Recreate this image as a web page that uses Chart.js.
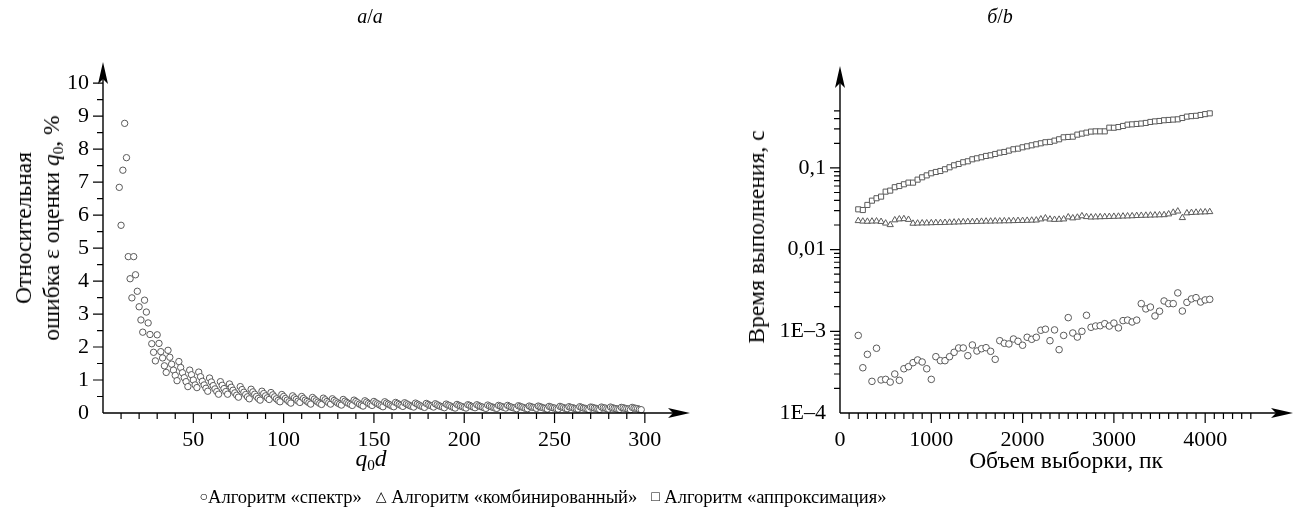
<!DOCTYPE html>
<html lang="ru">
<head>
<meta charset="utf-8">
<script src="https://cdn.jsdelivr.net/npm/chart.js@4.4.0/dist/chart.umd.min.js"></script>
<style>
body { margin: 0; width: 1299px; height: 515px; background: #fff; position: relative; overflow: hidden;
       font-family: "Liberation Serif", "DejaVu Serif", serif; color: #000; }
canvas { position: absolute; top: 0; }
#errChart { left: 0; }
#timeChart { left: 720px; }
.txt { position: absolute; white-space: nowrap; font-size: 23.5px; line-height: 1; transform: translate(-50%, -50%); }
.rot { transform: translate(-50%, -50%) rotate(-90deg); text-align: center; line-height: 28px; }
sub { font-size: 65%; vertical-align: -0.25em; line-height: 0; }
.legend { font-size: 18.5px; }
.legend span.sym { font-size: 14px; vertical-align: 2px; }
.legend span.gap { display: inline-block; width: 14px; }
</style>
</head>
<body>
<canvas id="errChart" width="720" height="515" style="width:720px;height:515px"></canvas>
<canvas id="timeChart" width="579" height="515" style="width:579px;height:515px"></canvas>

<div class="txt" style="left:370px;top:16px;font-size:20px"><i>a</i>/<i>a</i></div>
<div class="txt" style="left:1000px;top:16px;font-size:20px"><i>б</i>/<i>b</i></div>
<div class="txt rot" style="left:37px;top:228px">Относительная<br>ошибка ε оценки <i>q</i><sub>0</sub>, %</div>
<div class="txt" style="left:371px;top:459px"><i>q</i><sub>0</sub><i>d</i></div>
<div class="txt rot" style="left:756px;top:237px">Время выполнения, с</div>
<div class="txt" style="left:1066px;top:461px">Объем выборки, пк</div>
<div class="txt legend" style="left:543px;top:497px">
  <span class="sym">○</span>Алгоритм «спектр»<span class="gap"></span><span class="sym">△</span> Алгоритм «комбинированный»<span class="gap"></span><span class="sym">□</span> Алгоритм «аппроксимация»
</div>

<script>
// ---- a/a : relative error vs q0d ----
const errX = [
  9, 10, 11, 12, 13, 14, 15, 16, 17, 18,
  19, 20, 21, 22, 23, 24, 25, 26, 27, 28,
  29, 30, 31, 32, 33, 34, 35, 36, 37, 38,
  39, 40, 41, 42, 43, 44, 45, 46, 47, 48,
  49, 50, 51, 52, 53, 54, 55, 56, 57, 58,
  59, 60, 61, 62, 63, 64, 65, 66, 67, 68,
  69, 70, 71, 72, 73, 74, 75, 76, 77, 78,
  79, 80, 81, 82, 83, 84, 85, 86, 87, 88,
  89, 90, 91, 92, 93, 94, 95, 96, 97, 98,
  99, 100, 101, 102, 103, 104, 105, 106, 107, 108,
  109, 110, 111, 112, 113, 114, 115, 116, 117, 118,
  119, 120, 121, 122, 123, 124, 125, 126, 127, 128,
  129, 130, 131, 132, 133, 134, 135, 136, 137, 138,
  139, 140, 141, 142, 143, 144, 145, 146, 147, 148,
  149, 150, 151, 152, 153, 154, 155, 156, 157, 158,
  159, 160, 161, 162, 163, 164, 165, 166, 167, 168,
  169, 170, 171, 172, 173, 174, 175, 176, 177, 178,
  179, 180, 181, 182, 183, 184, 185, 186, 187, 188,
  189, 190, 191, 192, 193, 194, 195, 196, 197, 198,
  199, 200, 201, 202, 203, 204, 205, 206, 207, 208,
  209, 210, 211, 212, 213, 214, 215, 216, 217, 218,
  219, 220, 221, 222, 223, 224, 225, 226, 227, 228,
  229, 230, 231, 232, 233, 234, 235, 236, 237, 238,
  239, 240, 241, 242, 243, 244, 245, 246, 247, 248,
  249, 250, 251, 252, 253, 254, 255, 256, 257, 258,
  259, 260, 261, 262, 263, 264, 265, 266, 267, 268,
  269, 270, 271, 272, 273, 274, 275, 276, 277, 278,
  279, 280, 281, 282, 283, 284, 285, 286, 287, 288,
  289, 290, 291, 292, 293, 294, 295, 296, 297, 298
];
const errY = [
  6.84, 5.69, 7.36, 8.78, 7.74,
  4.74, 4.07, 3.49,
  4.74, 4.19, 3.69, 3.22, 2.82, 2.45,
  3.42, 3.06, 2.73, 2.38, 2.10, 1.84, 1.58,
  2.37, 2.11, 1.86, 1.67, 1.43, 1.23,
  1.90, 1.69, 1.48, 1.30, 1.14, 0.98,
  1.56, 1.38, 1.22, 1.07, 0.95, 0.80,
  1.30, 1.16, 1.00, 0.85, 0.77,
  1.24, 1.10, 0.96, 0.85, 0.75, 0.66,
  1.06, 0.94, 0.83, 0.73, 0.65, 0.57,
  0.95, 0.84, 0.74, 0.65, 0.57,
  0.88, 0.78, 0.69, 0.61, 0.54, 0.48,
  0.80, 0.71, 0.63, 0.56, 0.49, 0.43,
  0.72, 0.64, 0.57, 0.50, 0.44, 0.39,
  0.66, 0.59, 0.52, 0.46, 0.41,
  0.62, 0.55, 0.49, 0.43, 0.38, 0.34,
  0.56, 0.50, 0.44, 0.39, 0.34, 0.30,
  0.52, 0.46, 0.41, 0.36, 0.32,
  0.50, 0.44, 0.39, 0.35, 0.31, 0.27,
  0.47, 0.42, 0.37, 0.33, 0.29, 0.26,
  0.45, 0.40, 0.35, 0.31, 0.27,
  0.43, 0.38, 0.34, 0.30, 0.27, 0.24,
  0.41, 0.36, 0.32, 0.29, 0.26, 0.23,
  0.39, 0.35, 0.31, 0.27, 0.24, 0.21,
  0.37, 0.33, 0.29, 0.26, 0.23,
  0.35, 0.31, 0.28, 0.25, 0.22, 0.19,
  0.34, 0.30, 0.27, 0.24, 0.21, 0.19,
  0.32, 0.29, 0.26, 0.23, 0.20,
  0.31, 0.28, 0.25, 0.22, 0.20, 0.18,
  0.30, 0.27, 0.24, 0.21, 0.19, 0.17,
  0.29, 0.26, 0.23, 0.21, 0.18,
  0.28, 0.25, 0.22, 0.20, 0.18, 0.16,
  0.27, 0.24, 0.22, 0.19, 0.17, 0.15,
  0.26, 0.23, 0.21, 0.19, 0.17, 0.15,
  0.25, 0.23, 0.20, 0.18, 0.16,
  0.25, 0.22, 0.20, 0.18, 0.16, 0.14,
  0.24, 0.21, 0.19, 0.17, 0.15, 0.14,
  0.23, 0.21, 0.19, 0.17, 0.15,
  0.23, 0.20, 0.18, 0.16, 0.15, 0.13,
  0.22, 0.20, 0.18, 0.16, 0.14, 0.13,
  0.21, 0.19, 0.17, 0.16, 0.14,
  0.21, 0.19, 0.17, 0.15, 0.14, 0.12,
  0.20, 0.18, 0.16, 0.15, 0.13, 0.12,
  0.20, 0.18, 0.16, 0.14, 0.13,
  0.19, 0.17, 0.16, 0.14, 0.13, 0.12,
  0.19, 0.17, 0.15, 0.14, 0.12, 0.11,
  0.18, 0.17, 0.15, 0.14, 0.12, 0.11,
  0.18, 0.16, 0.15, 0.13, 0.12,
  0.18, 0.16, 0.14, 0.13, 0.12, 0.11,
  0.17, 0.16, 0.14, 0.13, 0.12, 0.10,
  0.17, 0.15, 0.14, 0.13, 0.11, 0.10
];
const errXTicks = [50, 100, 150, 200, 250, 300];
const errYTicks = [0, 1, 2, 3, 4, 5, 6, 7, 8, 9, 10];

// ---- б/b : run time vs sample size ----
const sizeX = [
  200, 250, 300, 350, 400, 450, 500, 550, 600, 650,
  700, 750, 800, 850, 900, 950, 1000, 1050, 1100, 1150,
  1200, 1250, 1300, 1350, 1400, 1450, 1500, 1550, 1600, 1650,
  1700, 1750, 1800, 1850, 1900, 1950, 2000, 2050, 2100, 2150,
  2200, 2250, 2300, 2350, 2400, 2450, 2500, 2550, 2600, 2650,
  2700, 2750, 2800, 2850, 2900, 2950, 3000, 3050, 3100, 3150,
  3200, 3250, 3300, 3350, 3400, 3450, 3500, 3550, 3600, 3650,
  3700, 3750, 3800, 3850, 3900, 3950, 4000, 4050
];
const spectrumTime = [
  0.00089, 0.000358, 0.000522, 0.000244, 0.00062, 0.000254, 0.000258, 0.000239, 0.0003, 0.000251,
  0.000348, 0.000369, 0.000413, 0.000446, 0.000421, 0.000348, 0.000258, 0.000489, 0.000437, 0.000437,
  0.000489, 0.000553, 0.000625, 0.000625, 0.000503, 0.00068, 0.000574, 0.000612, 0.00063, 0.000569,
  0.000454, 0.000767, 0.000713, 0.0007, 0.000805, 0.000755, 0.000675, 0.000845, 0.000798, 0.000845,
  0.00103, 0.00106, 0.000767, 0.00104, 0.000596, 0.00089, 0.00147, 0.000953, 0.00085, 0.001,
  0.00157, 0.00112, 0.00116, 0.00117, 0.00124, 0.00116, 0.00126, 0.0011, 0.00135, 0.00137,
  0.0013, 0.00137, 0.00218, 0.00188, 0.00198, 0.00154, 0.00176, 0.00235, 0.00218, 0.00218,
  0.00295, 0.00177, 0.00226, 0.00249, 0.00258, 0.00228, 0.00242, 0.00246
];
const combinedTime = [
  0.0225, 0.0222, 0.0221, 0.0222, 0.0223, 0.0220, 0.0210, 0.0201, 0.0230, 0.0236,
  0.0238, 0.0233, 0.0209, 0.0210, 0.0211, 0.0211, 0.0212, 0.0213, 0.0213, 0.0214,
  0.0215, 0.0216, 0.0217, 0.0218, 0.0219, 0.0219, 0.0220, 0.0221, 0.0222, 0.0222,
  0.0223, 0.0223, 0.0224, 0.0224, 0.0225, 0.0226, 0.0226, 0.0227, 0.0228, 0.0229,
  0.0236, 0.0243, 0.0235, 0.0233, 0.0234, 0.0236, 0.0250, 0.0243, 0.0248, 0.0258,
  0.0252, 0.0249, 0.0250, 0.0251, 0.0252, 0.0253, 0.0254, 0.0255, 0.0256, 0.0257,
  0.0258, 0.0260, 0.0261, 0.0262, 0.0263, 0.0264, 0.0265, 0.0266, 0.0272, 0.0285,
  0.0295, 0.0245, 0.0280, 0.0283, 0.0285, 0.0287, 0.0288, 0.0290
];
const approxTime = [
  0.0311, 0.0305, 0.0352, 0.0397, 0.0425, 0.0445, 0.0512, 0.0527, 0.058, 0.060,
  0.063, 0.066, 0.066, 0.0718, 0.0767, 0.081, 0.0859, 0.0891, 0.0916, 0.0962,
  0.1017, 0.1076, 0.1117, 0.1172, 0.1205, 0.1274, 0.131, 0.135, 0.140, 0.1427,
  0.148, 0.1536, 0.1566, 0.1626, 0.169, 0.172, 0.1787, 0.1837, 0.189, 0.1945,
  0.200, 0.206, 0.208, 0.2155, 0.224, 0.2368, 0.239, 0.241, 0.2553, 0.2627,
  0.270, 0.278, 0.280, 0.280, 0.280, 0.3107, 0.310, 0.316, 0.326, 0.338,
  0.341, 0.345, 0.349, 0.355, 0.365, 0.371, 0.375, 0.383, 0.386, 0.390,
  0.393, 0.408, 0.424, 0.430, 0.434, 0.444, 0.455, 0.465
];
const sizeXTicks = [0, 1000, 2000, 3000, 4000];
const timeYTicks = [1e-4, 1e-3, 0.01, 0.1];
const timeYLabels = ['1E–4', '1E–3', '0,01', '0,1'];

const tickFont = { family: '"Liberation Serif", serif', size: 22 };
const markColor = '#5a5a5a';

// axis lines with arrows and hand-placed tick marks
const arrowAxes = {
  id: 'arrowAxes',
  afterDatasetsDraw(chart, args, opts) {
    const { ctx, chartArea: a, scales: { x, y } } = chart;
    ctx.save();
    ctx.strokeStyle = '#000';
    ctx.fillStyle = '#000';
    ctx.lineWidth = 1.4;
    ctx.beginPath();
    ctx.moveTo(a.left, a.bottom); ctx.lineTo(a.right - 15, a.bottom);
    ctx.moveTo(a.left, a.bottom); ctx.lineTo(a.left, a.top + 15);
    ctx.stroke();
    ctx.beginPath();
    ctx.moveTo(a.right, a.bottom); ctx.lineTo(a.right - 22, a.bottom - 5);
    ctx.lineTo(a.right - 17, a.bottom); ctx.lineTo(a.right - 22, a.bottom + 5); ctx.closePath();
    ctx.moveTo(a.left, a.top); ctx.lineTo(a.left - 5, a.top + 22);
    ctx.lineTo(a.left, a.top + 17); ctx.lineTo(a.left + 5, a.top + 22); ctx.closePath();
    ctx.fill();
    ctx.lineWidth = 1.2;
    ctx.beginPath();
    opts.xMinor.forEach(v => { const p = x.getPixelForValue(v); ctx.moveTo(p, a.bottom); ctx.lineTo(p, a.bottom + 6); });
    opts.xMajor.forEach(v => { const p = x.getPixelForValue(v); ctx.moveTo(p, a.bottom); ctx.lineTo(p, a.bottom + 10); });
    opts.yMinor.forEach(v => { const p = y.getPixelForValue(v); ctx.moveTo(a.left, p); ctx.lineTo(a.left - 6, p); });
    opts.yMajor.forEach(v => { const p = y.getPixelForValue(v); ctx.moveTo(a.left, p); ctx.lineTo(a.left - 10, p); });
    ctx.stroke();
    ctx.restore();
  }
};

function plainScale(extra) {
  return Object.assign({
    grid: { display: false, drawTicks: false },
    border: { display: false },
  }, extra);
}

// ---------- chart a ----------
const errMinorX = [];
for (let v = 10; v <= 300; v += 10) if (v % 50) errMinorX.push(v);
const errMinorY = [];
for (let v = 0.5; v < 10; v += 1) errMinorY.push(v);

new Chart(document.getElementById('errChart'), {
  type: 'scatter',
  data: {
    datasets: [{
      data: errX.map((x, i) => ({ x, y: errY[i] })),
      pointStyle: 'circle', pointRadius: 3.2,
      borderColor: markColor, borderWidth: 1, backgroundColor: '#fff', clip: false
    }]
  },
  options: {
    responsive: false, animation: false, events: [],
    layout: { padding: { left: 0, top: 62, right: 30, bottom: 0 } },
    plugins: {
      legend: { display: false }, tooltip: { enabled: false },
      arrowAxes: { xMinor: errMinorX, xMajor: errXTicks, yMinor: errMinorY, yMajor: errYTicks.slice(1) }
    },
    scales: {
      x: plainScale({
        type: 'linear', min: 0, max: 325,
        afterFit(s) { s.height = 102; },
        afterBuildTicks(s) { s.ticks = errXTicks.map(v => ({ value: v })); },
        ticks: { font: tickFont, color: '#000', padding: 14, autoSkip: false, maxRotation: 0, callback: v => String(v) }
      }),
      y: plainScale({
        type: 'linear', min: 0, max: 10.64,
        afterFit(s) { s.width = 103; },
        afterBuildTicks(s) { s.ticks = errYTicks.map(v => ({ value: v })); },
        ticks: { font: tickFont, color: '#000', padding: 14, autoSkip: false, callback: v => String(v) }
      })
    }
  },
  plugins: [arrowAxes]
});

// ---------- chart б ----------
const sizeMinorX = [];
for (let v = 100; v <= 4500; v += 100) if (v % 1000) sizeMinorX.push(v);
const timeMinorY = [];
[1e-4, 1e-3, 1e-2].forEach(d => { for (let k = 2; k <= 9; k++) timeMinorY.push(k * d); });
for (let k = 2; k <= 5; k++) timeMinorY.push(k * 0.1);

const marker = { borderColor: markColor, borderWidth: 1, backgroundColor: '#fff', clip: false };

new Chart(document.getElementById('timeChart'), {
  type: 'scatter',
  data: {
    datasets: [
      Object.assign({ label: 'Алгоритм «спектр»', data: sizeX.map((x, i) => ({ x, y: spectrumTime[i] })),
        pointStyle: 'circle', pointRadius: 3.3 }, marker),
      Object.assign({ label: 'Алгоритм «комбинированный»', data: sizeX.map((x, i) => ({ x, y: combinedTime[i] })),
        pointStyle: 'triangle', pointRadius: 3.6 }, marker),
      Object.assign({ label: 'Алгоритм «аппроксимация»', data: sizeX.map((x, i) => ({ x, y: approxTime[i] })),
        pointStyle: 'rect', pointRadius: 3.6 }, marker)
    ]
  },
  options: {
    responsive: false, animation: false, events: [],
    layout: { padding: { left: 0, top: 66, right: 6, bottom: 0 } },
    plugins: {
      legend: { display: false }, tooltip: { enabled: false },
      arrowAxes: { xMinor: sizeMinorX, xMajor: sizeXTicks.slice(1), yMinor: timeMinorY, yMajor: timeYTicks.slice(1) }
    },
    scales: {
      x: plainScale({
        type: 'linear', min: 0, max: 4962,
        afterFit(s) { s.height = 102; },
        afterBuildTicks(s) { s.ticks = sizeXTicks.map(v => ({ value: v })); },
        ticks: { font: tickFont, color: '#000', padding: 14, autoSkip: false, maxRotation: 0, callback: v => String(v) }
      }),
      y: plainScale({
        type: 'logarithmic', min: 1e-4, max: 1.766,
        afterFit(s) { s.width = 120; },
        afterBuildTicks(s) { s.ticks = timeYTicks.map(v => ({ value: v })); },
        ticks: {
          font: tickFont, color: '#000', padding: 14, autoSkip: false,
          callback: v => timeYLabels[timeYTicks.indexOf(v)]
        }
      })
    }
  },
  plugins: [arrowAxes]
});
</script>
</body>
</html>
